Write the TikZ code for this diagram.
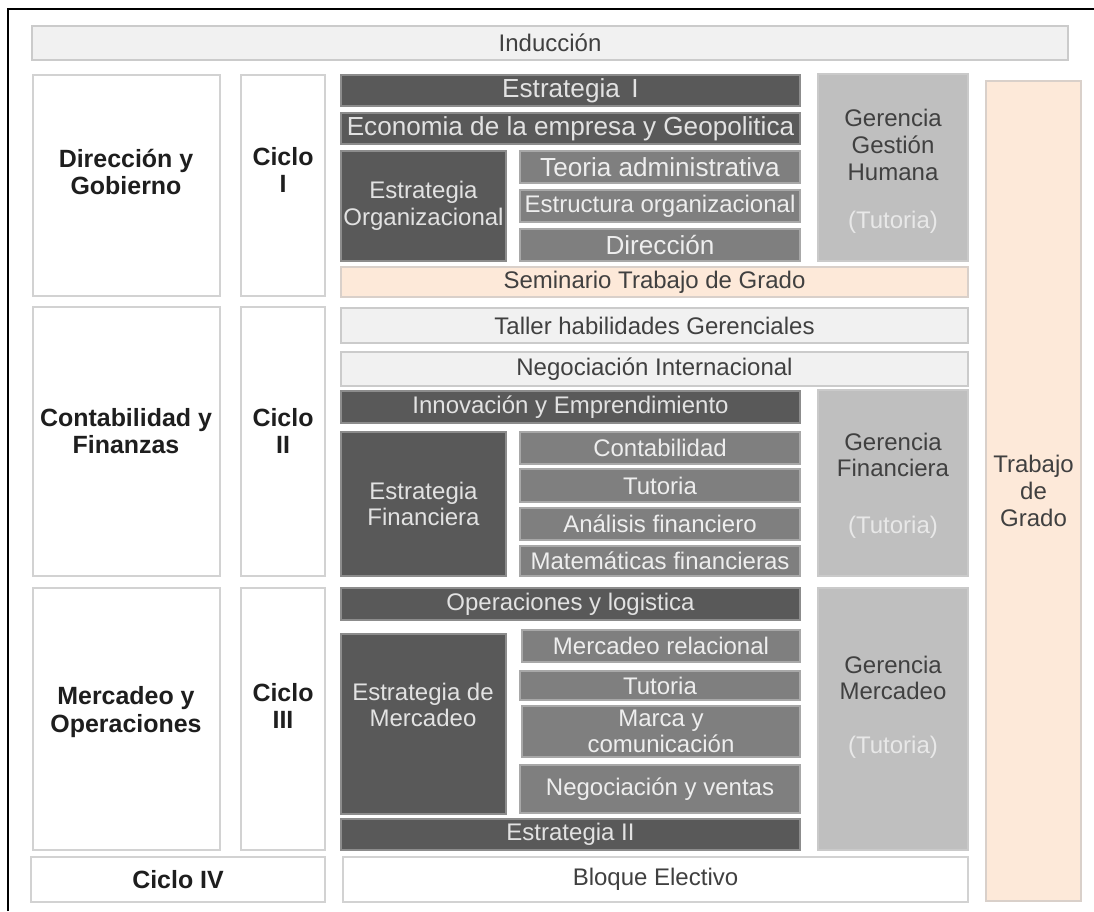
\documentclass[tikz,border=0pt]{standalone}
\usepackage{fontspec}
\setmainfont{Liberation Sans}
\definecolor{dk}{HTML}{595959}
\definecolor{dkline}{HTML}{8C8C8C}
\definecolor{dktext}{HTML}{E2E2E2}
\definecolor{md}{HTML}{7F7F7F}
\definecolor{mdline}{HTML}{A8A8A8}
\definecolor{mdtext}{HTML}{EEEEEE}
\definecolor{gr}{HTML}{BFBFBF}
\definecolor{grline}{HTML}{CACACA}
\definecolor{grtext}{HTML}{404040}
\definecolor{tut}{HTML}{E8E8E8}
\definecolor{peach}{HTML}{FDE9D9}
\definecolor{peachline}{HTML}{D9D0CA}
\definecolor{lt}{HTML}{F1F1F1}
\definecolor{ltline}{HTML}{CBCBCB}
\definecolor{wline}{HTML}{D2D2D2}
\definecolor{txt}{HTML}{404040}
\definecolor{boldtxt}{HTML}{1E1E1E}
\tikzset{
  base/.style={inner sep=0pt, outer sep=0pt, line width=1pt, align=center,
    font=\fontsize{18}{20}\selectfont},
  big/.style={font=\fontsize{19.6}{20}\selectfont},
  dkbox/.style={base, fill=dk, draw=dkline, text=dktext},
  mdbox/.style={base, fill=md, draw=mdline, text=mdtext},
  grbox/.style={base, fill=gr, draw=grline},
  pebox/.style={base, fill=peach, draw=peachline, text=txt},
  ltbox/.style={base, fill=lt, draw=ltline, line width=1.5pt, text=txt},
  whbox/.style={base, fill=white, draw=wline, line width=1.5pt, text=txt},
  lbl/.style={inner sep=0pt, align=center, font=\fontsize{18}{20}\selectfont},
  boldlbl/.style={lbl, font=\fontsize{18.7}{20.5}\selectfont\bfseries, text=boldtxt},
  grlbl/.style={lbl, text=grtext},
  tutlbl/.style={lbl, text=tut},
  dklbl/.style={lbl, text=dktext},
  frame/.style={line width=1.6pt, black}
}
\newcommand\bx[7]{%
  \pgfmathsetmacro\bxw{(#4-#2)*0.75}%
  \pgfmathsetmacro\bxh{(#5-#3)*0.75}%
  \node[#6, minimum width=\bxw pt, minimum height=\bxh pt] (#1) at ({(#2+#4)/2},{(#3+#5)/2}) {#7};}
\begin{document}
\begin{tikzpicture}[x=0.75pt, y=-0.75pt]
\useasboundingbox (0,0) rectangle (1094,911);
% outer frame
\coordinate (fl) at (8,911);
\coordinate (fc) at (8,9);
\coordinate (fr) at (1094,9);
\draw[frame] (fl) -- (fc) -- (fr);

\bx{ind}{32}{26}{1068}{60}{ltbox}{Inducción}

% left column
\bx{dir}{33}{75}{220}{296}{whbox}{}
\node[boldlbl] (tdir) at (126,172) {Dirección y\\Gobierno};
\bx{c1}{241}{75}{325}{296}{whbox}{}
\node[boldlbl] (tc1) at (283,170) {Ciclo\\I};
\bx{cont}{33}{307}{220}{576}{whbox}{}
\node[boldlbl] (tcont) at (126,431) {Contabilidad y\\Finanzas};
\bx{c2}{241}{307}{325}{576}{whbox}{}
\node[boldlbl] (tc2) at (283,431) {Ciclo\\II};
\bx{merc}{33}{588}{220}{850}{whbox}{}
\node[boldlbl] (tmerc) at (126,712) {Mercadeo y\\Operaciones};
\bx{c3}{241}{588}{325}{850}{whbox}{}
\node[boldlbl] (tc3) at (283,706) {Ciclo\\III};
\bx{c4}{31}{857}{325}{902}{whbox}{}
\node[boldlbl] (tc4) at (178,880) {Ciclo IV};
\bx{bloq}{343}{857}{968}{902}{whbox}{Bloque Electivo}

% block I
\bx{est1}{341}{75}{800}{106}{dkbox,big}{Estrategia\, I}
\bx{eco}{341}{113}{800}{144}{dkbox,big}{Economia de la empresa y Geopolitica}
\bx{eorg}{341}{151}{506}{261}{dkbox}{Estrategia\\Organizacional}
\bx{teo}{520}{151}{800}{183}{mdbox,big}{Teoria administrativa}
\bx{estr}{520}{190}{800}{222}{mdbox}{Estructura organizacional}
\bx{direc}{520}{229}{800}{261}{mdbox,big}{Dirección}
\bx{sem}{341}{267}{968}{297}{pebox}{Seminario Trabajo de Grado}
\bx{ggh}{818}{74}{968}{261}{grbox}{}
\node[grlbl] (tggh) at (893,145) {Gerencia\\Gestión\\Humana};
\node[tutlbl] (tut1) at (893,222) {(Tutoria)};
\bx{trab}{986}{81}{1081}{901}{pebox}{Trabajo\\de\\Grado}

% block II
\bx{tal}{341}{308}{968}{343}{ltbox}{Taller habilidades Gerenciales}
\bx{neg}{341}{352}{968}{386}{ltbox}{Negociación Internacional}
\bx{inn}{341}{391}{800}{423}{dkbox}{Innovación y Emprendimiento}
\bx{efin}{341}{432}{506}{576}{dkbox}{Estrategia\\Financiera}
\bx{cnt}{520}{432}{800}{464}{mdbox}{Contabilidad}
\bx{tu1}{520}{469}{800}{502}{mdbox}{Tutoria}
\bx{ana}{520}{508}{800}{540}{mdbox}{Análisis financiero}
\bx{mat}{520}{546}{800}{576}{mdbox}{Matemáticas financieras}
\bx{gf}{818}{390}{968}{576}{grbox}{}
\node[grlbl] (tgf) at (893,455) {Gerencia\\Financiera};
\node[tutlbl] (tut2) at (893,527) {(Tutoria)};

% block III
\bx{ope}{341}{588}{800}{620}{dkbox}{Operaciones y logistica}
\bx{emer}{341}{634}{506}{814}{dkbox}{}
\node[dklbl] (temer) at (423,705) {Estrategia de\\Mercadeo};
\bx{mrel}{522}{630}{800}{662}{mdbox}{Mercadeo relacional}
\bx{tu2}{520}{671}{800}{700}{mdbox}{Tutoria}
\bx{marca}{522}{706}{800}{757}{mdbox}{Marca y\\comunicación}
\bx{nven}{520}{765}{800}{813}{mdbox}{Negociación y ventas}
\bx{est2}{341}{819}{800}{850}{dkbox}{Estrategia II}
\bx{gm}{818}{588}{968}{850}{grbox}{}
\node[grlbl] (tgm) at (893,678) {Gerencia\\Mercadeo};
\node[tutlbl] (tut3) at (893,747) {(Tutoria)};
\end{tikzpicture}
\end{document}
